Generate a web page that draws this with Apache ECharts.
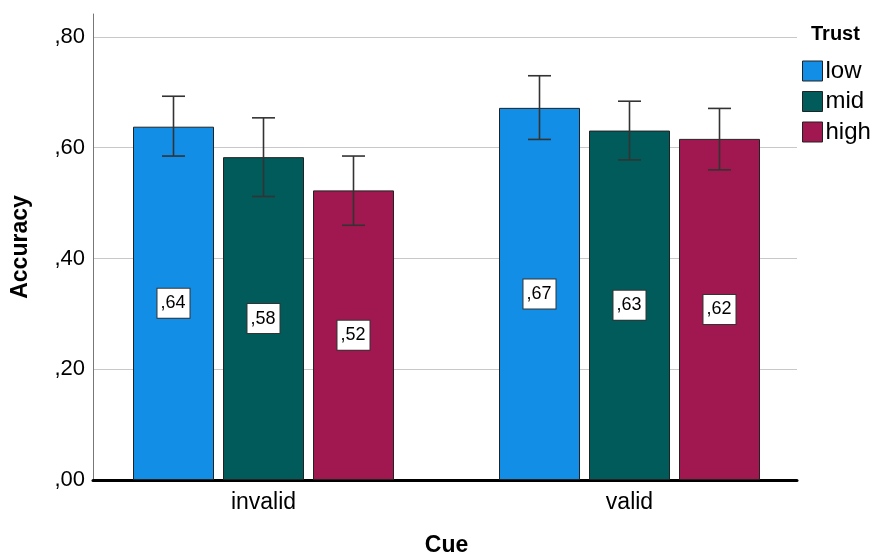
<!DOCTYPE html>
<html><head><meta charset="utf-8">
<script src="https://cdn.jsdelivr.net/npm/echarts@6/dist/echarts.min.js"></script>
<style>html,body{margin:0;padding:0;background:#fff}#c{width:873px;height:558px}</style>
</head><body><div id="c"></div>
<script>
var categories = ['invalid', 'valid'];
var seriesNames = ['low', 'mid', 'high'];
var lowVals = [0.638, 0.672];
var midVals = [0.583, 0.631];
var highVals = [0.523, 0.616];
var lowCI = [[0.585, 0.693], [0.615, 0.730]];
var midCI = [[0.512, 0.654], [0.578, 0.684]];
var highCI = [[0.460, 0.585], [0.560, 0.671]];
var yTicks = [0, 0.2, 0.4, 0.6, 0.8];

var colors = ['#128ee6', '#015b5a', '#a0184f'];
var FONT = 'Liberation Sans, Arial, sans-serif';
var values = [lowVals, midVals, highVals];
var cis = [lowCI, midCI, highCI];
var BAR_W = 81, STEP = 90;

function fmt(v) { return ',' + v.toFixed(2).split('.')[1]; }

var series = [];
values.forEach(function (vals, i) {
  series.push({
    name: seriesNames[i], type: 'bar', xAxisIndex: 1, yAxisIndex: 1,
    data: vals, barWidth: BAR_W, barGap: ((STEP - BAR_W) / BAR_W * 100) + '%',
    itemStyle: { color: colors[i], borderColor: '#222', borderWidth: 1 },
    label: {
      show: true, position: 'inside', formatter: function (p) { return fmt(p.value); },
      color: '#000', fontFamily: FONT, fontSize: 18, backgroundColor: '#fff',
      borderColor: '#333', borderWidth: 1, padding: [6, 4, 5, 3]
    },
    z: 2
  });
});
values.forEach(function (vals, i) {
  series.push({
    type: 'custom', xAxisIndex: 1, yAxisIndex: 1, z: 5,
    data: cis[i].map(function (c, k) { return [k, c[0], c[1]]; }),
    renderItem: function (params, api) {
      var lo = api.coord([api.value(0), api.value(1)]);
      var hi = api.coord([api.value(0), api.value(2)]);
      var x = lo[0] + (i - 1) * STEP;
      var cw = 11.5;
      var st = { stroke: '#333', lineWidth: 1.6 };
      return { type: 'group', children: [
        { type: 'line', shape: { x1: x, y1: lo[1], x2: x, y2: hi[1] }, style: st },
        { type: 'line', shape: { x1: x - cw, y1: lo[1], x2: x + cw, y2: lo[1] }, style: st },
        { type: 'line', shape: { x1: x - cw, y1: hi[1], x2: x + cw, y2: hi[1] }, style: st }
      ]};
    }
  });
});

var chart = echarts.init(document.getElementById('c'), null, { renderer: 'canvas' });
chart.setOption({
  animation: false,
  backgroundColor: '#fff',
  title: { text: 'Trust', left: 806, top: 19, textStyle: { fontFamily: FONT, fontSize: 20, fontWeight: 'bold', color: '#000' } },
  legend: {
    data: seriesNames, orient: 'vertical', left: 797, top: 54, icon: 'rect',
    itemWidth: 20, itemHeight: 20, itemGap: 6.5,
    textStyle: { fontFamily: FONT, fontSize: 24, lineHeight: 20, color: '#000', padding: [0, 0, 0, -2] },
    itemStyle: { borderColor: '#222', borderWidth: 1 }
  },
  grid: [
    { left: 93, right: 76, top: 14, bottom: 78, outerBoundsMode: 'none', containLabel: false },
    { left: 80.5, right: 60.5, top: 14, bottom: 78, outerBoundsMode: 'none', containLabel: false }
  ],
  xAxis: [
    { gridIndex: 0, type: 'category', data: categories, axisLabel: { show: false }, axisTick: { show: false },
      axisLine: { lineStyle: { color: '#000', width: 3 } } },
    { gridIndex: 1, type: 'category', data: categories, axisLine: { show: false }, axisTick: { show: false },
      axisLabel: { fontFamily: FONT, fontSize: 23, color: '#000', margin: 11 },
      name: 'Cue', nameLocation: 'middle', nameGap: 54,
      nameTextStyle: { fontFamily: FONT, fontSize: 23, fontWeight: 'bold', color: '#000' } }
  ],
  yAxis: [
    { gridIndex: 0, type: 'value', min: 0, max: 0.8415, interval: 0.2,
      axisLine: { show: true, lineStyle: { color: '#777', width: 1 } }, axisTick: { show: false },
      splitLine: { show: true, showMaxLine: false, lineStyle: { color: '#c8c8c8', width: 1 } },
      axisLabel: { fontFamily: FONT, fontSize: 22, color: '#000', margin: 8,
        formatter: function (v) {
          for (var k = 0; k < yTicks.length; k++) if (Math.abs(v - yTicks[k]) < 1e-6) return fmt(yTicks[k]);
          return '';
        } },
      name: 'Accuracy', nameLocation: 'middle', nameGap: 61,
      nameTextStyle: { fontFamily: FONT, fontSize: 23, fontWeight: 'bold', color: '#000' } },
    { gridIndex: 1, type: 'value', min: 0, max: 0.8415, show: false, splitLine: { show: false } }
  ],
  series: series
});
</script></body></html>
